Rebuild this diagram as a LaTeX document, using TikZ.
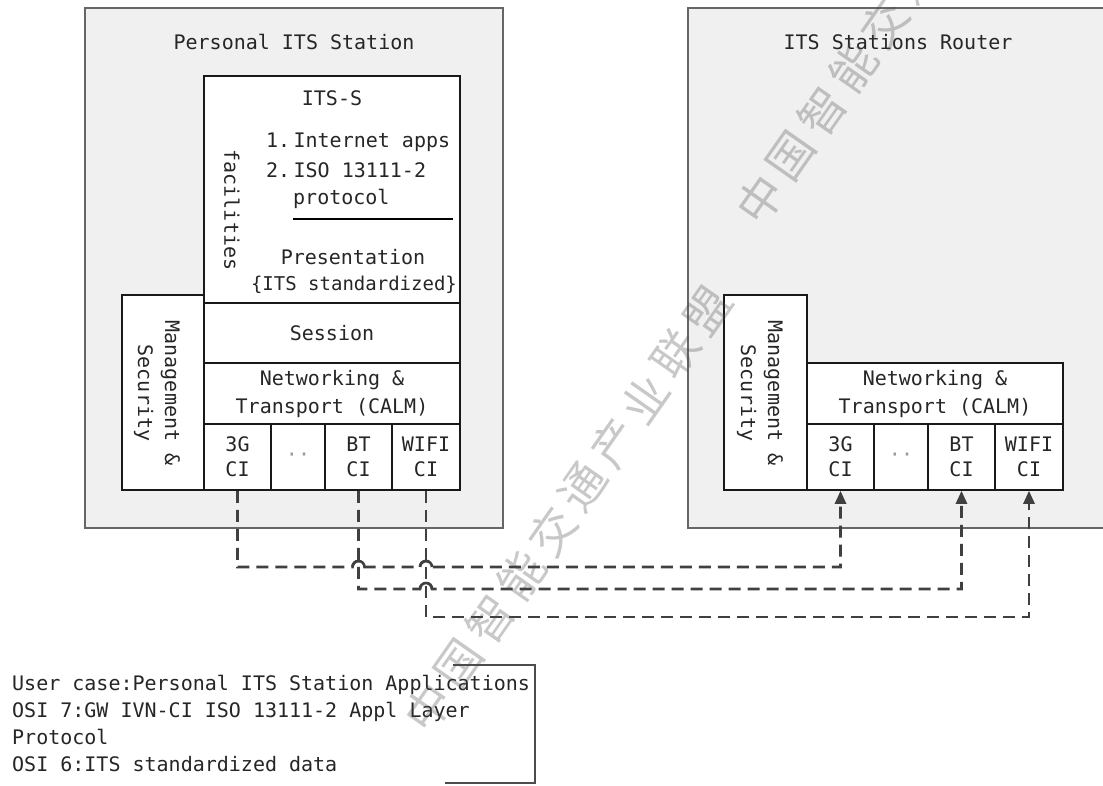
\documentclass[tikz,border=0pt]{standalone}
\usepackage{fontspec}
\newfontfamily\mono{DejaVu Sans Mono}
\newfontfamily\cjk{Noto Sans CJK SC}
\usetikzlibrary{arrows.meta,calc}
\begin{document}
\begin{tikzpicture}[x=1pt,y=-1pt,
  txt/.style={font=\mono\fontsize{20}{25}\selectfont, text=black!85, inner sep=0pt, align=center},
  outer/.style={draw=black!60, line width=2pt, fill=black!6, inner sep=0pt},
  layer/.style={draw=black!90, line width=1.5pt, fill=white, inner sep=0pt, font=\mono\fontsize{20}{25}\selectfont, text=black!85, align=center},
  conn/.style={draw=black!75, line width=2.6pt, dash pattern=on 12pt off 7pt, -{Triangle[length=13pt,width=11pt]}},
  hop/.style={draw=black!75, line width=2.6pt},
  wm/.style={font=\cjk\fontsize{46}{46}\selectfont, text=black!70, text opacity=0.3, inner sep=0pt, rotate=55}
]
\useasboundingbox[fill=white] (0,0) rectangle (1103,785);

% outer stations
\node[outer, minimum width=418pt, minimum height=520pt] (lout) at (294,268) {};
\node[txt] (ltitle) at (294,42) {Personal ITS Station};
\node[outer, minimum width=430pt, minimum height=520pt] (rout) at (903,268) {};
\node[txt] (rtitle) at (898,42) {ITS Stations Router};

% left stack
\node[layer, minimum width=256pt, minimum height=227pt] (itss) at (332,189.5) {};
\node[txt] (itsslabel) at (332,98) {ITS-S};
\node[txt, anchor=west] (app1) at (266,142) {1.\,Internet apps};
\node[txt, anchor=west] (app2) at (266,170) {2.\,ISO 13111-2};
\node[txt, anchor=west] (app3) at (293,199) {protocol};
\draw[line width=1.2pt] (293,219) -- (453,219);
\node[txt] (pres) at (353,257) {Presentation};
\node[txt, font=\mono\fontsize{19}{25}\selectfont] (std) at (354,285) {\{ITS standardized\}};
\node[txt, rotate=-90] (fac) at (232,210) {facilities};

\node[layer, minimum width=256pt, minimum height=60pt] (lsess) at (332,333) {Session};
\node[layer, minimum width=256pt, minimum height=61pt, font=\mono\fontsize{20}{28}\selectfont] (lnet) at (332,393.5) {Networking \&\\Transport (CALM)};
\node[layer, minimum width=67pt, minimum height=66pt] (l3g) at (237.5,457) {3G\\CI};
\node[layer, minimum width=54pt, minimum height=66pt, text=black!40] (ldots) at (298,457) {\raisebox{-4pt}{··}};
\node[layer, minimum width=67pt, minimum height=66pt] (lbt) at (358.5,457) {BT\\CI};
\node[layer, minimum width=68pt, minimum height=66pt] (lwifi) at (426,457) {WIFI\\CI};
\node[layer, minimum width=82pt, minimum height=195pt] (lmgmt) at (163,392.5) {};
\node[txt, rotate=-90, font=\mono\fontsize{20}{27}\selectfont] (lmgmttxt) at (157,393) {Management \&\\Security};

% right stack
\node[layer, minimum width=256pt, minimum height=61pt, font=\mono\fontsize{20}{28}\selectfont] (rnet) at (935,393.5) {Networking \&\\Transport (CALM)};
\node[layer, minimum width=67pt, minimum height=66pt] (r3g) at (840.5,457) {3G\\CI};
\node[layer, minimum width=54pt, minimum height=66pt, text=black!40] (rdots) at (901,457) {\raisebox{-4pt}{··}};
\node[layer, minimum width=67pt, minimum height=66pt] (rbt) at (961.5,457) {BT\\CI};
\node[layer, minimum width=68pt, minimum height=66pt] (rwifi) at (1029,457) {WIFI\\CI};
\node[layer, minimum width=83pt, minimum height=195pt] (rmgmt) at (765.5,392.5) {};
\node[txt, rotate=-90, font=\mono\fontsize{20}{27}\selectfont] (rmgmttxt) at (760,393) {Management \&\\Security};

% connectors
\coordinate (y1) at (0,567);
\coordinate (y2) at (0,589);
\coordinate (y3) at (0,617);
\draw[conn] (l3g.south) -- (l3g.south |- y1)
  -- ($(lbt.south |- y1)+(-6,0)$) arc[start angle=180,end angle=0,radius=6pt]
  -- ($(lwifi.south |- y1)+(-6,0)$) arc[start angle=180,end angle=0,radius=6pt]
  -- (r3g.south |- y1) -- (r3g.south);
\draw[conn] (lbt.south) -- (lbt.south |- y2)
  -- ($(lwifi.south |- y2)+(-6,0)$) arc[start angle=180,end angle=0,radius=6pt]
  -- (rbt.south |- y2) -- (rbt.south);
\draw[conn] (lwifi.south) -- (lwifi.south |- y3) -- (rwifi.south |- y3) -- (rwifi.south);
% visible line hops at the crossings
\draw[hop] ($(lbt.south |- y1)+(-6,0)$) arc[start angle=180,end angle=0,radius=6pt];
\draw[hop] ($(lwifi.south |- y1)+(-6,0)$) arc[start angle=180,end angle=0,radius=6pt];
\draw[hop] ($(lwifi.south |- y2)+(-6,0)$) arc[start angle=180,end angle=0,radius=6pt];

% use case text
\draw[line width=1.5pt, draw=black!70] (453,665) -- (535,665) -- (535,783) -- (445,783);
\node[txt, anchor=west, align=left, font=\mono\fontsize{20}{27}\selectfont] (usecase) at (12,723)
  {User case:Personal ITS Station Applications\\OSI 7:GW IVN-CI ISO 13111-2 Appl Layer\\Protocol\\OSI 6:ITS standardized data};

% watermark
\foreach \ch [count=\i from 0] in {中,国,智,能,交,通,产,业,联,盟}{
  \node[wm] (wma\i) at ($(428,708)+(\i*31,-\i*44.2)$) {\ch};
  \node[wm] (wmb\i) at ($(760,200)+(\i*31,-\i*44.2)$) {\ch};
}
\end{tikzpicture}
\end{document}
